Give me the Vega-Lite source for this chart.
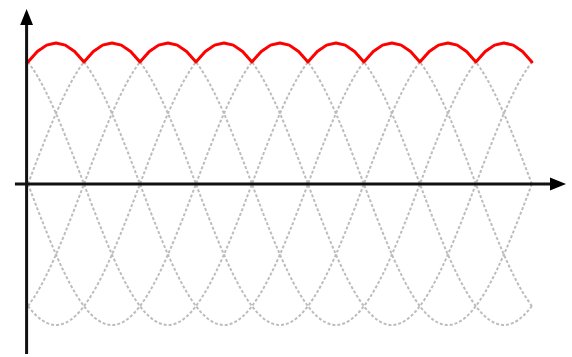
{
  "$schema": "https://vega.github.io/schema/vega-lite/v6.json",
  "width": 572,
  "height": 357,
  "autosize": {"type": "fit", "contains": "padding"},
  "padding": 0,
  "background": "white",
  "config": {"view": {"stroke": null}},
  "datasets": {
    "w": [
      {"t":0,"a":0,"b":0.866,"c":0.866,"d":0,"e":-0.866,"f":-0.866,"m":0.866},
      {"t":10,"a":0.174,"b":0.940,"c":0.766,"d":-0.174,"e":-0.940,"f":-0.766,"m":0.940},
      {"t":20,"a":0.342,"b":0.985,"c":0.643,"d":-0.342,"e":-0.985,"f":-0.643,"m":0.985},
      {"t":30,"a":0.5,"b":1,"c":0.5,"d":-0.5,"e":-1,"f":-0.5,"m":1},
      {"t":40,"a":0.643,"b":0.985,"c":0.342,"d":-0.643,"e":-0.985,"f":-0.342,"m":0.985},
      {"t":50,"a":0.766,"b":0.940,"c":0.174,"d":-0.766,"e":-0.940,"f":-0.174,"m":0.940},
      {"t":60,"a":0.866,"b":0.866,"c":0,"d":-0.866,"e":-0.866,"f":0,"m":0.866},
      {"t":70,"a":0.940,"b":0.766,"c":-0.174,"d":-0.940,"e":-0.766,"f":0.174,"m":0.940},
      {"t":80,"a":0.985,"b":0.643,"c":-0.342,"d":-0.985,"e":-0.643,"f":0.342,"m":0.985},
      {"t":90,"a":1,"b":0.5,"c":-0.5,"d":-1,"e":-0.5,"f":0.5,"m":1},
      {"t":100,"a":0.985,"b":0.342,"c":-0.643,"d":-0.985,"e":-0.342,"f":0.643,"m":0.985},
      {"t":110,"a":0.940,"b":0.174,"c":-0.766,"d":-0.940,"e":-0.174,"f":0.766,"m":0.940},
      {"t":120,"a":0.866,"b":0,"c":-0.866,"d":-0.866,"e":0,"f":0.866,"m":0.866},
      {"t":130,"a":0.766,"b":-0.174,"c":-0.940,"d":-0.766,"e":0.174,"f":0.940,"m":0.940},
      {"t":140,"a":0.643,"b":-0.342,"c":-0.985,"d":-0.643,"e":0.342,"f":0.985,"m":0.985},
      {"t":150,"a":0.5,"b":-0.5,"c":-1,"d":-0.5,"e":0.5,"f":1,"m":1},
      {"t":160,"a":0.342,"b":-0.643,"c":-0.985,"d":-0.342,"e":0.643,"f":0.985,"m":0.985},
      {"t":170,"a":0.174,"b":-0.766,"c":-0.940,"d":-0.174,"e":0.766,"f":0.940,"m":0.940},
      {"t":180,"a":0,"b":-0.866,"c":-0.866,"d":0,"e":0.866,"f":0.866,"m":0.866},
      {"t":190,"a":-0.174,"b":-0.940,"c":-0.766,"d":0.174,"e":0.940,"f":0.766,"m":0.940},
      {"t":200,"a":-0.342,"b":-0.985,"c":-0.643,"d":0.342,"e":0.985,"f":0.643,"m":0.985},
      {"t":210,"a":-0.5,"b":-1,"c":-0.5,"d":0.5,"e":1,"f":0.5,"m":1},
      {"t":220,"a":-0.643,"b":-0.985,"c":-0.342,"d":0.643,"e":0.985,"f":0.342,"m":0.985},
      {"t":230,"a":-0.766,"b":-0.940,"c":-0.174,"d":0.766,"e":0.940,"f":0.174,"m":0.940},
      {"t":240,"a":-0.866,"b":-0.866,"c":0,"d":0.866,"e":0.866,"f":0,"m":0.866},
      {"t":250,"a":-0.940,"b":-0.766,"c":0.174,"d":0.940,"e":0.766,"f":-0.174,"m":0.940},
      {"t":260,"a":-0.985,"b":-0.643,"c":0.342,"d":0.985,"e":0.643,"f":-0.342,"m":0.985},
      {"t":270,"a":-1,"b":-0.5,"c":0.5,"d":1,"e":0.5,"f":-0.5,"m":1},
      {"t":280,"a":-0.985,"b":-0.342,"c":0.643,"d":0.985,"e":0.342,"f":-0.643,"m":0.985},
      {"t":290,"a":-0.940,"b":-0.174,"c":0.766,"d":0.940,"e":0.174,"f":-0.766,"m":0.940},
      {"t":300,"a":-0.866,"b":0,"c":0.866,"d":0.866,"e":0,"f":-0.866,"m":0.866},
      {"t":310,"a":-0.766,"b":0.174,"c":0.940,"d":0.766,"e":-0.174,"f":-0.940,"m":0.940},
      {"t":320,"a":-0.643,"b":0.342,"c":0.985,"d":0.643,"e":-0.342,"f":-0.985,"m":0.985},
      {"t":330,"a":-0.5,"b":0.5,"c":1,"d":0.5,"e":-0.5,"f":-1,"m":1},
      {"t":340,"a":-0.342,"b":0.643,"c":0.985,"d":0.342,"e":-0.643,"f":-0.985,"m":0.985},
      {"t":350,"a":-0.174,"b":0.766,"c":0.940,"d":0.174,"e":-0.766,"f":-0.940,"m":0.940},
      {"t":360,"a":0,"b":0.866,"c":0.866,"d":0,"e":-0.866,"f":-0.866,"m":0.866},
      {"t":370,"a":0.174,"b":0.940,"c":0.766,"d":-0.174,"e":-0.940,"f":-0.766,"m":0.940},
      {"t":380,"a":0.342,"b":0.985,"c":0.643,"d":-0.342,"e":-0.985,"f":-0.643,"m":0.985},
      {"t":390,"a":0.5,"b":1,"c":0.5,"d":-0.5,"e":-1,"f":-0.5,"m":1},
      {"t":400,"a":0.643,"b":0.985,"c":0.342,"d":-0.643,"e":-0.985,"f":-0.342,"m":0.985},
      {"t":410,"a":0.766,"b":0.940,"c":0.174,"d":-0.766,"e":-0.940,"f":-0.174,"m":0.940},
      {"t":420,"a":0.866,"b":0.866,"c":0,"d":-0.866,"e":-0.866,"f":0,"m":0.866},
      {"t":430,"a":0.940,"b":0.766,"c":-0.174,"d":-0.940,"e":-0.766,"f":0.174,"m":0.940},
      {"t":440,"a":0.985,"b":0.643,"c":-0.342,"d":-0.985,"e":-0.643,"f":0.342,"m":0.985},
      {"t":450,"a":1,"b":0.5,"c":-0.5,"d":-1,"e":-0.5,"f":0.5,"m":1},
      {"t":460,"a":0.985,"b":0.342,"c":-0.643,"d":-0.985,"e":-0.342,"f":0.643,"m":0.985},
      {"t":470,"a":0.940,"b":0.174,"c":-0.766,"d":-0.940,"e":-0.174,"f":0.766,"m":0.940},
      {"t":480,"a":0.866,"b":0,"c":-0.866,"d":-0.866,"e":0,"f":0.866,"m":0.866},
      {"t":490,"a":0.766,"b":-0.174,"c":-0.940,"d":-0.766,"e":0.174,"f":0.940,"m":0.940},
      {"t":500,"a":0.643,"b":-0.342,"c":-0.985,"d":-0.643,"e":0.342,"f":0.985,"m":0.985},
      {"t":510,"a":0.5,"b":-0.5,"c":-1,"d":-0.5,"e":0.5,"f":1,"m":1},
      {"t":520,"a":0.342,"b":-0.643,"c":-0.985,"d":-0.342,"e":0.643,"f":0.985,"m":0.985},
      {"t":530,"a":0.174,"b":-0.766,"c":-0.940,"d":-0.174,"e":0.766,"f":0.940,"m":0.940},
      {"t":540,"a":0,"b":-0.866,"c":-0.866,"d":0,"e":0.866,"f":0.866,"m":0.866}
    ],
    "axes": [
      {"x1": -14, "x2": 561, "y1": 0, "y2": 0},
      {"x1": -1.5, "x2": -1.5, "y1": -1.206, "y2": 1.163}
    ],
    "xarrow": [{"x": 568, "y": 0}],
    "yarrow": [{"x": -1.5, "y": 1.184}]
  },
  "layer": [
    {
      "data": {"name": "w"},
      "transform": [{"fold": ["a", "b", "c", "d", "e", "f"], "as": ["k", "v"]}],
      "mark": {"type": "line", "color": "#bdbdbd", "strokeWidth": 2, "strokeDash": [3, 2], "interpolate": "monotone"},
      "encoding": {
        "x": {"field": "t", "type": "quantitative", "scale": {"domain": [-30, 583], "nice": false, "zero": false}, "axis": null},
        "y": {"field": "v", "type": "quantitative", "scale": {"domain": [-1.227, 1.305], "nice": false, "zero": false}, "axis": null},
        "detail": {"field": "k"}
      }
    },
    {
      "data": {"name": "w"},
      "mark": {"type": "line", "color": "#ff0000", "strokeWidth": 3, "strokeCap": "round", "strokeJoin": "round"},
      "encoding": {
        "x": {"field": "t", "type": "quantitative"},
        "y": {"field": "m", "type": "quantitative"}
      }
    },
    {
      "data": {"name": "axes"},
      "mark": {"type": "rule", "color": "#111111", "strokeWidth": 3},
      "encoding": {
        "x": {"field": "x1", "type": "quantitative"},
        "x2": {"field": "x2"},
        "y": {"field": "y1", "type": "quantitative"},
        "y2": {"field": "y2"}
      }
    },
    {
      "data": {"name": "xarrow"},
      "mark": {"type": "point", "shape": "M1,0L-1,-0.8L-1,0.8Z", "size": 256, "filled": true, "color": "#000000", "opacity": 1},
      "encoding": {
        "x": {"field": "x", "type": "quantitative"},
        "y": {"field": "y", "type": "quantitative"}
      }
    },
    {
      "data": {"name": "yarrow"},
      "mark": {"type": "point", "shape": "M0,-1L0.8,1L-0.8,1Z", "size": 256, "filled": true, "color": "#000000", "opacity": 1},
      "encoding": {
        "x": {"field": "x", "type": "quantitative"},
        "y": {"field": "y", "type": "quantitative"}
      }
    }
  ]
}
